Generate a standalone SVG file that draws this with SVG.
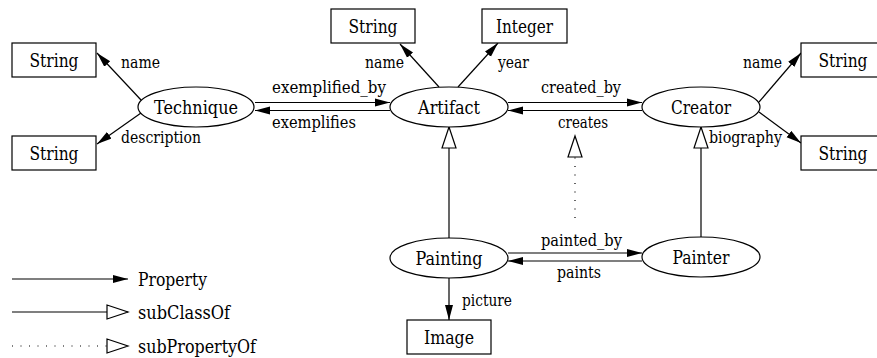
<svg xmlns="http://www.w3.org/2000/svg" width="877" height="358" viewBox="0 0 877 358">
<style>
.box{fill:#fff;stroke:#000;stroke-width:1.2}
.ell{fill:#fff;stroke:#000;stroke-width:1.2}
text{font-family:'DejaVu Serif',serif;fill:#000}
.nt{font-size:18px;text-anchor:middle}
.lb{font-size:16.5px}
.lg{font-size:18px}
.p{stroke:#000;stroke-width:1.2;fill:none;marker-end:url(#arr)}
.s{stroke:#000;stroke-width:1.2;fill:none;marker-end:url(#tri)}
.d{stroke:#000;stroke-width:1.2;fill:none;stroke-dasharray:1 7.5;marker-end:url(#tri)}
</style>
<defs>
<marker id="arr" markerUnits="userSpaceOnUse" markerWidth="16" markerHeight="10" refX="15" refY="4.5" orient="auto">
<path d="M0,0.5 L15,4.5 L0,8.5 z" fill="#000"/>
</marker>
<marker id="tri" markerUnits="userSpaceOnUse" markerWidth="24" markerHeight="18" refX="22" refY="8" orient="auto">
<path d="M1,1 L22,8 L1,15 z" fill="#fff" stroke="#000" stroke-width="1.2"/>
</marker>
</defs>
<rect width="877" height="358" fill="#fff"/>
<g id="connectors">
<line class="p" x1="141" y1="100" x2="97" y2="53"/>
<line class="p" x1="141" y1="113" x2="97" y2="144"/>
<line class="p" x1="255" y1="102.5" x2="390" y2="102.5"/>
<line class="p" x1="390" y1="110.5" x2="255" y2="110.5"/>
<line class="p" x1="439" y1="87" x2="400" y2="44"/>
<line class="p" x1="458" y1="87" x2="498" y2="43"/>
<line class="p" x1="508" y1="102.5" x2="642" y2="102.5"/>
<line class="p" x1="642" y1="110.5" x2="508" y2="110.5"/>
<line class="p" x1="759" y1="102" x2="801" y2="53"/>
<line class="p" x1="759" y1="112" x2="801" y2="143"/>
<line class="s" x1="449" y1="238" x2="449" y2="127"/>
<line class="s" x1="701" y1="237" x2="701" y2="127"/>
<line class="d" x1="575" y1="218" x2="575" y2="136"/>
<line class="p" x1="508" y1="253" x2="642" y2="253"/>
<line class="p" x1="642" y1="261" x2="508" y2="261"/>
<line class="p" x1="449" y1="278" x2="449" y2="320"/>
<text class="lb" x="121" y="68" textLength="39" lengthAdjust="spacingAndGlyphs">name</text>
<text class="lb" x="121" y="143" textLength="80" lengthAdjust="spacingAndGlyphs">description</text>
<text class="lb" x="272" y="93" textLength="114" lengthAdjust="spacingAndGlyphs">exemplified_by</text>
<text class="lb" x="272" y="128" textLength="84" lengthAdjust="spacingAndGlyphs">exemplifies</text>
<text class="lb" x="365" y="68" textLength="39" lengthAdjust="spacingAndGlyphs">name</text>
<text class="lb" x="498" y="68" textLength="31" lengthAdjust="spacingAndGlyphs">year</text>
<text class="lb" x="541" y="93" textLength="80" lengthAdjust="spacingAndGlyphs">created_by</text>
<text class="lb" x="558" y="128" textLength="50" lengthAdjust="spacingAndGlyphs">creates</text>
<text class="lb" x="743" y="68" textLength="39" lengthAdjust="spacingAndGlyphs">name</text>
<text class="lb" x="709" y="143" textLength="73" lengthAdjust="spacingAndGlyphs">biography</text>
<text class="lb" x="541" y="246" textLength="81" lengthAdjust="spacingAndGlyphs">painted_by</text>
<text class="lb" x="557" y="278" textLength="44" lengthAdjust="spacingAndGlyphs">paints</text>
<text class="lb" x="462" y="306" textLength="50" lengthAdjust="spacingAndGlyphs">picture</text>
</g>
<g id="technique"><ellipse class="ell" cx="196" cy="107" rx="58" ry="20"/><text class="nt" x="196" y="113.5" textLength="84" lengthAdjust="spacingAndGlyphs">Technique</text></g>
<g id="artifact"><ellipse class="ell" cx="449" cy="107" rx="59" ry="20"/><text class="nt" x="449" y="113.5" textLength="62" lengthAdjust="spacingAndGlyphs">Artifact</text></g>
<g id="creator"><ellipse class="ell" cx="701" cy="107" rx="59" ry="20"/><text class="nt" x="701" y="113.5" textLength="60" lengthAdjust="spacingAndGlyphs">Creator</text></g>
<g id="painting"><ellipse class="ell" cx="449" cy="258" rx="59" ry="20"/><text class="nt" x="449" y="264.5" textLength="67" lengthAdjust="spacingAndGlyphs">Painting</text></g>
<g id="painter"><ellipse class="ell" cx="701" cy="257" rx="59" ry="20"/><text class="nt" x="701" y="263.5" textLength="57" lengthAdjust="spacingAndGlyphs">Painter</text></g>
<g id="string-tech-name"><rect class="box" x="12" y="43" width="84" height="34"/><text class="nt" x="54" y="67" textLength="49" lengthAdjust="spacingAndGlyphs">String</text></g>
<g id="string-tech-desc"><rect class="box" x="12" y="136" width="84" height="34"/><text class="nt" x="54" y="160" textLength="49" lengthAdjust="spacingAndGlyphs">String</text></g>
<g id="string-art-name"><rect class="box" x="331" y="9" width="84" height="34"/><text class="nt" x="373" y="33" textLength="49" lengthAdjust="spacingAndGlyphs">String</text></g>
<g id="integer-art-year"><rect class="box" x="482" y="9" width="85" height="34"/><text class="nt" x="524.5" y="33" textLength="57" lengthAdjust="spacingAndGlyphs">Integer</text></g>
<g id="string-cre-name"><rect class="box" x="801" y="43" width="84" height="34"/><text class="nt" x="843" y="67" textLength="49" lengthAdjust="spacingAndGlyphs">String</text></g>
<g id="string-cre-bio"><rect class="box" x="801" y="136" width="84" height="34"/><text class="nt" x="843" y="160" textLength="49" lengthAdjust="spacingAndGlyphs">String</text></g>
<g id="image"><rect class="box" x="407" y="320" width="84" height="34"/><text class="nt" x="449" y="343.5" textLength="50" lengthAdjust="spacingAndGlyphs">Image</text></g>
<g id="legend">
<line class="p" x1="12" y1="279" x2="128" y2="279"/>
<text class="lg" x="138" y="286" textLength="69" lengthAdjust="spacingAndGlyphs">Property</text>
<line class="s" x1="12" y1="312" x2="128" y2="312"/>
<text class="lg" x="138" y="319" textLength="92" lengthAdjust="spacingAndGlyphs">subClassOf</text>
<line class="d" x1="12" y1="346" x2="128" y2="346"/>
<text class="lg" x="138" y="353" textLength="118" lengthAdjust="spacingAndGlyphs">subPropertyOf</text>
</g>
</svg>
